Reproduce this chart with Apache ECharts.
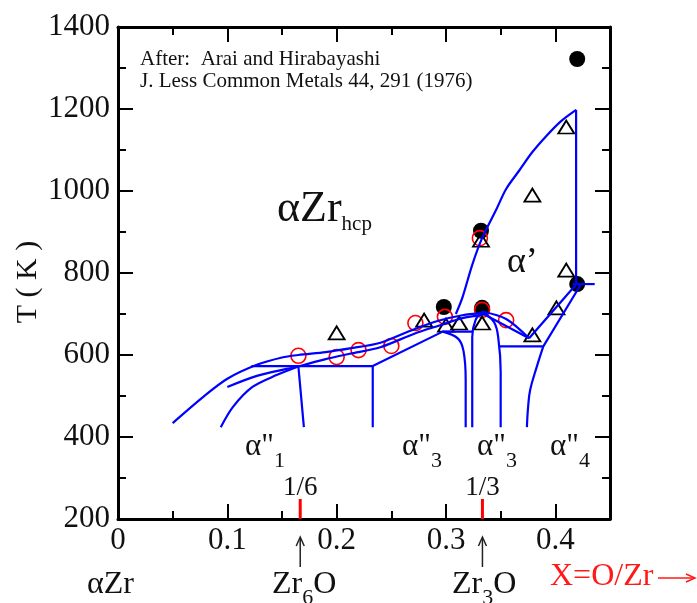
<!DOCTYPE html>
<html>
<head>
<meta charset="utf-8">
<script src="https://cdn.jsdelivr.net/npm/echarts@6/dist/echarts.min.js"></script>
<style>
  html, body { margin: 0; padding: 0; background: #fff; }
  #chart { width: 697px; height: 603px; }
</style>
</head>
<body>
<div id="chart"></div>
<script>
// Zr–O phase diagram (O/Zr ratio vs temperature), after Arai & Hirabayashi (1976)

const SERIF = "'Liberation Serif', 'Times New Roman', serif";
const INK = '#111111';
const BLUE = '#0000ff';

// axis ranges and ticks
const xRange = [0, 0.45];
const yRange = [200, 1400];
const xMajorTicks = [0, 0.1, 0.2, 0.3, 0.4];
const yMajorStep = 200;

// phase boundaries: [O/Zr, T (K)]
const solvusOuter = [[0.050, 434], [0.078, 498], [0.100, 542], [0.127, 576], [0.150, 594], [0.165, 600],
  [0.190, 607], [0.212, 616], [0.240, 630], [0.271, 663], [0.294, 684], [0.315, 697], [0.333, 702]];
const bandLower = [[0.165, 572], [0.190, 590], [0.212, 603], [0.240, 619], [0.271, 652], [0.294, 672],
  [0.315, 690], [0.333, 698]];
const alpha1Inner = [[0.094, 424], [0.105, 473], [0.123, 522], [0.145, 551], [0.165, 572]];
const alpha1Middle = [[0.100, 522], [0.127, 549], [0.154, 566], [0.165, 572]];
const eutectoidLow = [[0.122, 573], [0.233, 573]];
const alpha1Right = [[0.165, 572], [0.170, 424]];
const alpha2Edge = [[0.233, 424], [0.233, 573], [0.297, 657], [0.324, 657]];
const alpha3LeftEdge = [[0.297, 657], [0.311, 640], [0.316, 610], [0.318, 540], [0.318, 424]];
const alpha3DomeLeft = [[0.324, 424], [0.324, 560], [0.324, 644], [0.327, 685], [0.333, 705]];
const alpha3DomeRight = [[0.333, 705], [0.344, 680], [0.348, 637], [0.350, 560], [0.350, 424]];
const domeSlopeA = [[0.333, 702], [0.376, 641]];
const domeSlopeB = [[0.333, 706], [0.355, 688], [0.376, 641]];
const alpha4Left = [[0.376, 641], [0.420, 775]];
const alpha4Right = [[0.349, 621], [0.389, 621], [0.424, 775]];
const alpha4Top = [[0.416, 773], [0.436, 773]];
const alpha4Curve = [[0.389, 621], [0.383, 571], [0.377, 515], [0.375, 470], [0.374, 424]];
const alphaPrimeLeft = [[0.309, 700], [0.315, 740], [0.324, 820], [0.333, 885], [0.346, 955], [0.355, 1005],
  [0.367, 1050], [0.379, 1095], [0.392, 1135], [0.405, 1170], [0.419, 1198]];
const alphaPrimeRight = [[0.419, 1198], [0.419, 773]];

// measured transitions
const redCircles = [[0.165, 598], [0.200, 595], [0.220, 612], [0.250, 622], [0.272, 678], [0.299, 693],
  [0.333, 710], [0.355, 685], [0.331, 885]];
const triangles = [[0.200, 654], [0.280, 685], [0.300, 673], [0.312, 678], [0.333, 678], [0.379, 649],
  [0.401, 715], [0.410, 1156], [0.379, 990], [0.332, 880], [0.410, 807]];
const blackDots = [[0.420, 1322], [0.332, 903], [0.298, 717], [0.333, 715], [0.420, 773]];

// ordered-phase compositions marked on the axis
const fractionMarks = [1 / 6, 1 / 3];
const fractionLabels = ['1/6', '1/3'];
const fractionTickTop = 249;

const boundarySets = [
  [solvusOuter, 0.3], [bandLower, 0.3], [alpha1Inner, 0.3], [alpha1Middle, 0.3], [eutectoidLow, 0],
  [alpha1Right, 0], [alpha2Edge, 0], [alpha3LeftEdge, 0.4], [alpha3DomeLeft, 0.4], [alpha3DomeRight, 0.4],
  [domeSlopeA, 0], [domeSlopeB, 0.3], [alpha4Left, 0], [alpha4Right, 0], [alpha4Top, 0],
  [alpha4Curve, 0.4], [alphaPrimeLeft, 0.3], [alphaPrimeRight, 0]
];

const chart = echarts.init(document.getElementById('chart'));

const gridBox = { left: 118, right: 87, top: 27, bottom: 84 };
const tickLine = { color: '#000', width: 2 };
const frameLine = { show: true, onZero: false, lineStyle: { color: '#000', width: 3 } };

function majorX(position, showLabels) {
  return {
    type: 'value', gridIndex: 0, position, min: xRange[0], max: xRange[1], interval: 0.05,
    axisLine: frameLine,
    axisTick: { show: true, inside: true, length: 15, lineStyle: tickLine, customValues: xMajorTicks },
    axisLabel: {
      show: showLabels, customValues: xMajorTicks, margin: 6,
      fontFamily: SERIF, fontSize: 31, color: INK,
      formatter: v => (v === 0 ? '0' : String(+v.toFixed(2)))
    },
    splitLine: { show: false }
  };
}
function minorX(position) {
  return {
    type: 'value', gridIndex: 1, position, min: xRange[0], max: xRange[1], interval: 0.05,
    axisLine: { show: false },
    axisTick: { show: true, inside: true, length: 8, lineStyle: tickLine },
    axisLabel: { show: false }, splitLine: { show: false }
  };
}
function yAxisDef(position, showLabels, gridIndex) {
  return {
    type: 'value', gridIndex, position, min: yRange[0], max: yRange[1], interval: yMajorStep,
    show: gridIndex === 0,
    axisLine: frameLine,
    axisTick: { show: true, inside: true, length: 15, lineStyle: tickLine },
    minorTick: { show: true, splitNumber: 2, length: 8, lineStyle: tickLine },
    axisLabel: {
      show: showLabels, margin: 8, fontFamily: SERIF, fontSize: 31, color: INK,
      formatter: v => String(v)
    },
    splitLine: { show: false }
  };
}

const series = [];
series.push({
  type: 'scatter', name: 'dots', data: blackDots, symbol: 'circle', symbolSize: 16, z: 2,
  itemStyle: { color: '#000', opacity: 1 }, silent: true
});
series.push({
  type: 'scatter', name: 'circles', data: redCircles, symbol: 'circle', symbolSize: 15, z: 3,
  itemStyle: { color: 'rgba(0,0,0,0)', borderColor: '#ff0000', borderWidth: 1.6, opacity: 1 }, silent: true
});
series.push({
  type: 'scatter', name: 'triangles', data: triangles, symbol: 'triangle', symbolSize: [16, 13], z: 3,
  itemStyle: { color: 'rgba(0,0,0,0)', borderColor: '#000', borderWidth: 1.8, opacity: 1 }, silent: true
});
boundarySets.forEach(([pts, sm]) => {
  series.push({
    type: 'line', data: pts, smooth: sm, showSymbol: false, symbol: 'none', z: 4, silent: true,
    lineStyle: { color: BLUE, width: 2.2 }
  });
});
fractionMarks.forEach(f => {
  series.push({
    type: 'line', data: [[f, yRange[0]], [f, fractionTickTop]], showSymbol: false, symbol: 'none', z: 5,
    silent: true, lineStyle: { color: '#ff0000', width: 3 }
  });
});

chart.setOption({
  animation: false,
  backgroundColor: '#fff',
  grid: [Object.assign({}, gridBox), Object.assign({}, gridBox)],
  xAxis: [majorX('bottom', true), majorX('top', false), minorX('bottom'), minorX('top')],
  yAxis: [yAxisDef('left', true, 0), yAxisDef('right', false, 0), yAxisDef('left', false, 1)],
  series
});

// text annotations
const measureCtx = document.createElement('canvas').getContext('2d');
function textWidth(str, size) {
  measureCtx.font = size + 'px ' + SERIF;
  return measureCtx.measureText(str).width;
}
function textEl(x, y, str, size, color, align) {
  return {
    type: 'text', x, y, silent: true, z: 10,
    style: {
      text: str, font: size + 'px ' + SERIF, fill: color || INK,
      textAlign: align || 'left', textVerticalAlign: 'middle', align: align || 'left', verticalAlign: 'middle'
    }
  };
}
// runs of [text, size, dy] laid out left to right
function composite(x, y, parts, color) {
  const els = [];
  let cx = x;
  parts.forEach(([t, size, dy]) => {
    els.push(textEl(cx, y + (dy || 0), t, size, color));
    cx += textWidth(t, size);
  });
  return els;
}

const g = [];
g.push(textEl(140, 59, 'After:  Arai and Hirabayashi', 21));
g.push(textEl(140, 81, 'J. Less Common Metals 44, 291 (1976)', 21));
g.push(...composite(277, 209, [['αZr', 44, 0], ['hcp', 21, 15]]));
g.push(textEl(507, 263, 'α’', 36));
g.push(...composite(245, 447, [['α"', 31, 0], ['1', 22, 14]]));
g.push(...composite(402, 447, [['α"', 31, 0], ['3', 22, 14]]));
g.push(...composite(477, 447, [['α"', 31, 0], ['3', 22, 14]]));
g.push(...composite(550, 447, [['α"', 31, 0], ['4', 22, 14]]));

fractionMarks.forEach((f, i) => {
  const px = chart.convertToPixel({ xAxisIndex: 0 }, f);
  g.push(textEl(px, 488, fractionLabels[i], 27, INK, 'center'));
  g.push({ type: 'line', silent: true, shape: { x1: px, y1: 539, x2: px, y2: 567 }, style: { stroke: '#222', lineWidth: 1.5 } });
  g.push({ type: 'polyline', silent: true, shape: { points: [[px - 4, 546], [px, 537], [px + 4, 546]] }, style: { stroke: '#222', lineWidth: 1.5, fill: null } });
});
g.push(...composite(87, 585, [['αZr', 32, 0]]));
g.push(...composite(272, 585, [['Zr', 32, 0], ['6', 22, 13], ['O', 32, 0]]));
g.push(...composite(452, 585, [['Zr', 32, 0], ['3', 22, 13], ['O', 32, 0]]));
g.push(textEl(550, 577, 'X=O/Zr', 32, '#ff1a1a'));
g.push({ type: 'line', silent: true, shape: { x1: 658, y1: 578, x2: 694, y2: 578 }, style: { stroke: '#ff1a1a', lineWidth: 1.5 } });
g.push({ type: 'polyline', silent: true, shape: { points: [[686, 574], [695, 578], [686, 582]] }, style: { stroke: '#ff1a1a', lineWidth: 1.5, fill: null } });
g.push({
  type: 'text', x: 28, y: 282, rotation: Math.PI / 2, silent: true,
  style: { text: 'T ( K )', font: '30px ' + SERIF, fill: INK, textAlign: 'center', textVerticalAlign: 'middle', align: 'center', verticalAlign: 'middle' }
});

chart.setOption({ graphic: { elements: g } });
</script>
</body>
</html>
